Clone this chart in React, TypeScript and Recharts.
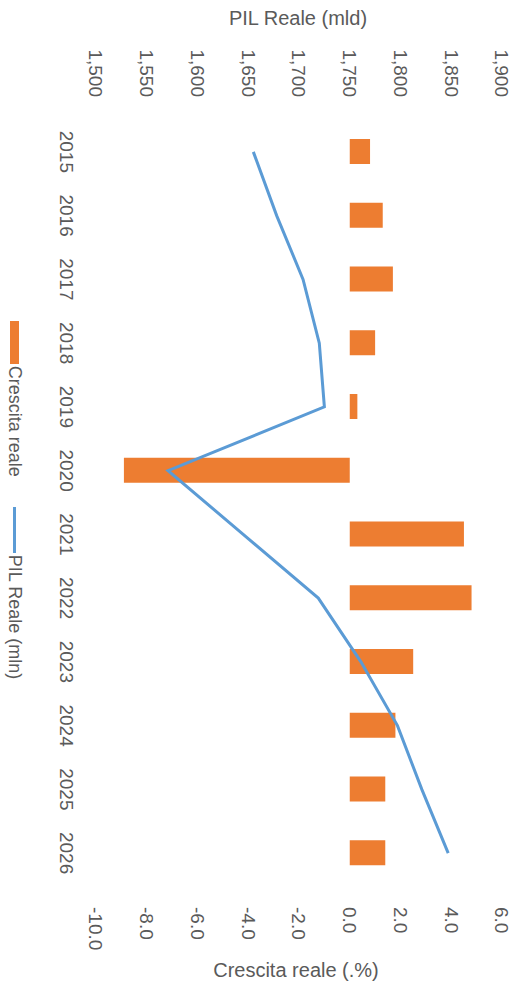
import React from 'react';
import { ComposedChart, Bar, Line, XAxis, YAxis, Legend } from 'recharts';

const years = ['2015', '2016', '2017', '2018', '2019', '2020', '2021', '2022', '2023', '2024', '2025', '2026'];
const crescitaReale = [0.8, 1.3, 1.7, 1.0, 0.3, -8.9, 4.5, 4.8, 2.5, 1.8, 1.4, 1.4];
const pilReale = [1655, 1678, 1704, 1720, 1725, 1571, 1645, 1719, 1761, 1797, 1821, 1847];
const pilTicks = [1500, 1550, 1600, 1650, 1700, 1750, 1800, 1850, 1900];
const crescitaTicks = [-10, -8, -6, -4, -2, 0, 2, 4, 6];

const data = years.map((y, i) => ({ year: y, crescita: crescitaReale[i], pil: pilReale[i] }));

const FONT = '"Liberation Sans", Arial, sans-serif';
const TEXT = '#5a5a5a';
const ORANGE = '#ED7D31';
const BLUE = '#5B9BD5';

const renderLegend = () => (
  <div style={{ display: 'flex', justifyContent: 'center', alignItems: 'center', fontFamily: FONT, fontSize: 18, color: TEXT }}>
    <div style={{ width: 43, height: 9, background: ORANGE, marginRight: 2 }} />
    <span>Crescita reale</span>
    <div style={{ width: 46, height: 3, background: BLUE, marginLeft: 30, marginRight: 2 }} />
    <span>PIL Reale (mln)</span>
  </div>
);

export default function App() {
  return (
    <div style={{ position: 'absolute', left: 0, top: 0, width: 522, height: 984, background: '#fff', overflow: 'hidden' }}>
      <div style={{ position: 'absolute', left: 98, top: 4, width: 400, height: 28, lineHeight: '28px', textAlign: 'center', fontFamily: FONT, fontSize: 20, color: TEXT }}>
        PIL Reale (mld)
      </div>
      <div style={{ position: 'absolute', left: 96, top: 956, width: 400, height: 28, lineHeight: '28px', textAlign: 'center', fontFamily: FONT, fontSize: 20, color: TEXT }}>
        Crescita reale (.%)
      </div>
      <div
        style={{
          position: 'absolute',
          left: 0,
          top: 0,
          width: 984,
          height: 522,
          transformOrigin: '0 0',
          transform: 'translate(522px, 0px) rotate(90deg)',
        }}
      >
        <ComposedChart width={984} height={522} data={data} margin={{ top: 20, right: 0, bottom: 36, left: 0 }}>
          <XAxis
            dataKey="year"
            height={60}
            axisLine={false}
            tickLine={false}
            tickSize={0}
            tickMargin={23}
            tick={{ fill: TEXT, fontSize: 19, fontFamily: FONT }}
            interval={0}
          />
          <YAxis
            yAxisId="pil"
            orientation="left"
            width={120}
            domain={[1500, 1900]}
            ticks={pilTicks}
            allowDataOverflow
            axisLine={false}
            tickLine={false}
            tickSize={0}
            tickMargin={23}
            tickFormatter={(v: number) => v.toLocaleString('en-US')}
            tick={{ fill: TEXT, fontSize: 19, fontFamily: FONT }}
          />
          <YAxis
            yAxisId="cr"
            orientation="right"
            width={99}
            domain={[-10, 6]}
            ticks={crescitaTicks}
            allowDataOverflow
            axisLine={false}
            tickLine={false}
            tickSize={0}
            tickMargin={22}
            tickFormatter={(v: number) => v.toFixed(1)}
            tick={{ fill: TEXT, fontSize: 19, fontFamily: FONT }}
          />
          <Bar yAxisId="cr" dataKey="crescita" name="Crescita reale" fill={ORANGE} barSize={25} isAnimationActive={false} />
          <Line
            yAxisId="pil"
            type="linear"
            dataKey="pil"
            name="PIL Reale (mln)"
            stroke={BLUE}
            strokeWidth={3}
            dot={false}
            activeDot={false}
            isAnimationActive={false}
          />
          <Legend
            layout="horizontal"
            verticalAlign="middle"
            align="center"
            content={renderLegend}
            wrapperStyle={{ left: 0, top: 497, width: 1000, height: 24 }}
          />
        </ComposedChart>
      </div>
    </div>
  );
}
